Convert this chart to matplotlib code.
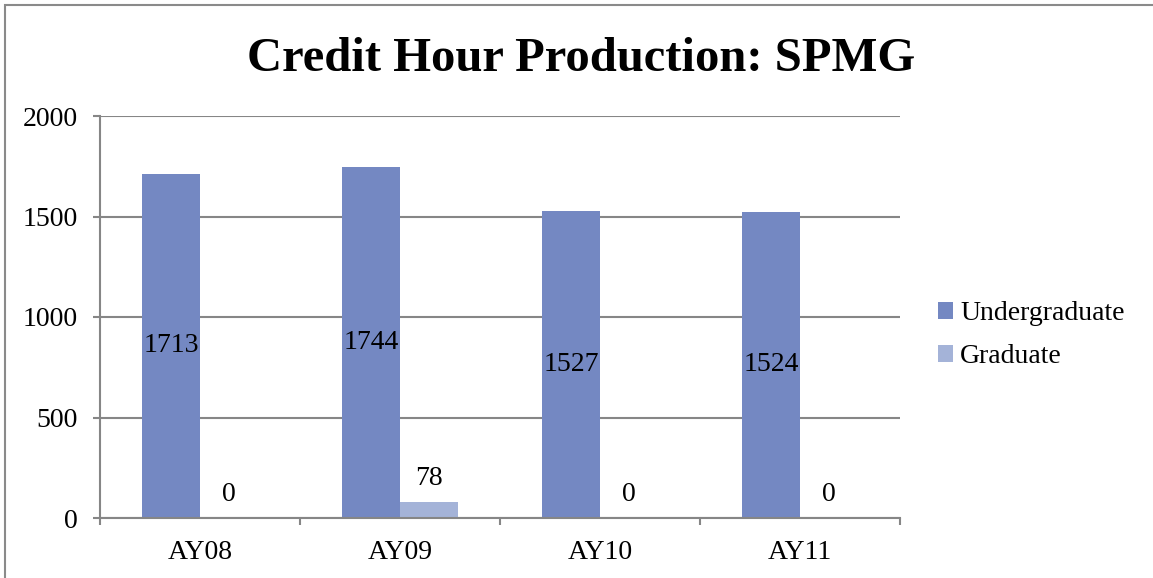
import matplotlib.pyplot as plt
from matplotlib.patches import Rectangle
import numpy as np

years = ["AY08", "AY09", "AY10", "AY11"]
undergrad = [1713, 1744, 1527, 1524]
grad = [0, 78, 0, 0]

plt.rcParams['font.family'] = ['Liberation Serif', 'DejaVu Serif']

fig = plt.figure(figsize=(11.53, 5.78), dpi=100)
ax = fig.add_axes([100/1153, 1-518/578, 800/1153, 402/578])

x = np.arange(len(years))
w = 0.29
b1 = ax.bar(x - w/2, undergrad, w, color='#7488c2', label='Undergraduate', zorder=3)
b2 = ax.bar(x + w/2, grad, w, color='#a4b3d8', label='Graduate', zorder=3)

# labels in the middle of the big bars, above the small ones
for xi, v in zip(x, undergrad):
    ax.text(xi - w/2, v/2, str(v), ha='center', va='center', fontsize=20, zorder=4)
for xi, v in zip(x, grad):
    ax.annotate(str(v), (xi + w/2, v), xytext=(0, 17), textcoords='offset points',
                ha='center', va='center', fontsize=20, zorder=4)

ax.set_xlim(-0.5, 3.5)
ax.set_ylim(0, 2000)
ax.set_yticks([0, 500, 1000, 1500, 2000])
ax.set_xticks(x)
ax.set_xticklabels(years)
ax.set_xticks([-0.5, 0.5, 1.5, 2.5, 3.5], minor=True)
ax.tick_params(axis='x', which='major', length=0, labelsize=20, pad=16)
ax.tick_params(axis='x', which='minor', length=5, width=1.5, color='#868686')
ax.tick_params(axis='y', length=5, width=1.5, color='#868686', labelsize=20, pad=11)

ax.grid(axis='y', color='#868686', linewidth=1.5, zorder=0)
for s in ['top', 'right']:
    ax.spines[s].set_visible(False)
ax.spines['left'].set_color('#868686')
ax.spines['left'].set_linewidth(1.5)
ax.spines['bottom'].set_color('#868686')
ax.spines['bottom'].set_linewidth(1.5)
ax.spines['bottom'].set_zorder(5)

fig.text(0.504, 0.898, "Credit Hour Production: SPMG", ha='center', va='center',
         fontsize=35, fontweight='bold')

fig.legend(handles=[b1, b2], loc='center left', bbox_to_anchor=(938/1153, 1-335/578),
           frameon=False, fontsize=20, handlelength=0.55, handleheight=0.55,
           handletextpad=0.25, labelspacing=0.65, borderaxespad=0, borderpad=0)

# chart area border (only left and top visible in the crop)
fig.add_artist(Rectangle((5/1153, -0.1), 1.2, 1 - 5/578 + 0.1, transform=fig.transFigure,
                         fill=False, edgecolor='#8a8a8a', linewidth=1.5))

plt.savefig('out.png', dpi=100)
